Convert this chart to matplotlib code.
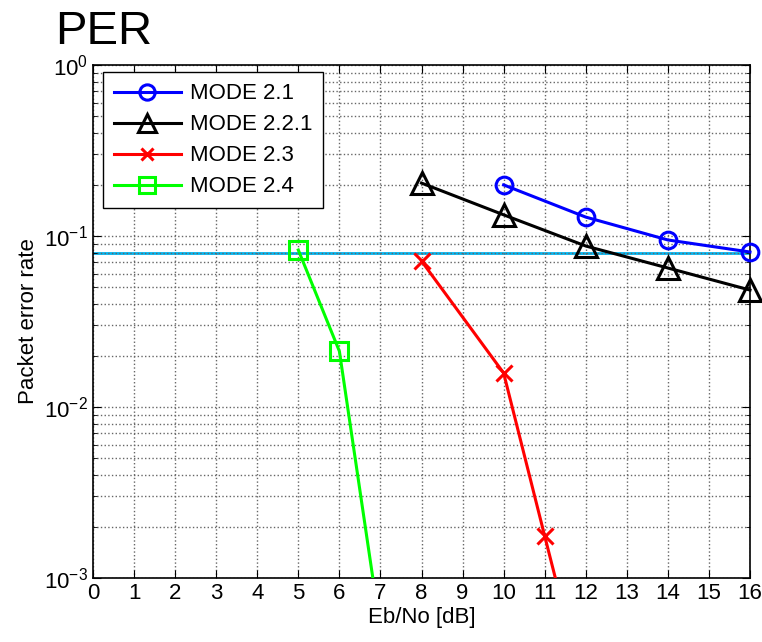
import matplotlib
matplotlib.use("Agg")
import matplotlib.pyplot as plt
from matplotlib.ticker import LogLocator, NullFormatter
from matplotlib.lines import Line2D

plt.rcParams.update({"font.family": ["Liberation Sans", "DejaVu Sans"], "font.size": 16})

# data
x21 = [10, 12, 14, 16]
per21 = [0.199, 0.129, 0.0948, 0.0806]
x221 = [8, 10, 12, 14, 16]
per221 = [0.204, 0.133, 0.0874, 0.065, 0.0483]
x23 = [8, 10, 11, 12]
per23 = [0.0714, 0.0158, 0.00176, 0.0002]
x24 = [5, 6, 7]
per24 = [0.0828, 0.0212, 0.0005]
target = 0.08
labels = ["MODE 2.1", "MODE 2.2.1", "MODE 2.3", "MODE 2.4"]

fig = plt.figure(figsize=(7.62, 6.42), dpi=100)
ax = fig.add_axes([93/762, 1 - 578/642, 657/762, 513/642])

ax.axhline(target, color="#00B4F0", lw=2, zorder=1)
ax.plot(x21, per21, "-o", color="#0000FF", lw=2.2, ms=12, mfc="none", mew=2.2, zorder=3, clip_on=False)
ax.plot(x221, per221, "-^", color="black", lw=2.2, ms=16, mfc="none", mew=2.2, zorder=3, clip_on=False)
ax.plot(x23, per23, "-", color="#FF0000", lw=2.2, zorder=3)
ax.plot(x23[:3], per23[:3], "x", color="#FF0000", ms=11, mew=2.2, zorder=3)
ax.plot(x24, per24, "-", color="#00FF00", lw=2.2, zorder=3)
ax.plot(x24[:2], per24[:2], "s", color="#00FF00", ms=13, mfc="none", mew=2.2, zorder=3)

ax.set_yscale("log")
ax.set_xlim(0, 16); ax.set_ylim(1e-3, 1)
ax.set_xticks(range(0, 17))
ax.yaxis.set_major_locator(LogLocator(base=10, numticks=10))
ax.yaxis.set_minor_locator(LogLocator(base=10, subs=range(2, 10), numticks=20))
ax.yaxis.set_minor_formatter(NullFormatter())
ax.tick_params(which="both", direction="in", top=True, right=True, labelsize=16)
ax.tick_params(which="major", length=6)
ax.tick_params(which="minor", length=3)
ax.grid(True, which="major", color="#666666", ls=":", lw=1.0)
ax.grid(True, which="minor", axis="y", color="#666666", ls=":", lw=1.0)
for s in ax.spines.values(): s.set_linewidth(1.2)

ax.set_xlabel("Eb/No [dB]", fontsize=16, labelpad=2)
ax.set_ylabel("Packet error rate", fontsize=16, labelpad=4)
fig.text(55/762, 1 - 44/642, "PER", fontsize=34, ha="left", va="baseline")

# legend handles with markers like MATLAB
handles = [Line2D([], [], color="#0000FF", lw=2.2, marker="o", ms=11, mfc="none", mew=2.2),
           Line2D([], [], color="black", lw=2.2, marker="^", ms=13, mfc="none", mew=2.2),
           Line2D([], [], color="#FF0000", lw=2.2, marker="x", ms=9, mew=2.2),
           Line2D([], [], color="#00FF00", lw=2.2, marker="s", ms=11, mfc="none", mew=2.2)]
leg = ax.legend(handles, labels, loc="upper left", bbox_to_anchor=(0.015, 0.986), borderaxespad=0,
                fontsize=16, fancybox=False, edgecolor="black", framealpha=1, handlelength=3.0,
                handletextpad=0.4, borderpad=0.5, labelspacing=0.45)
leg.get_frame().set_linewidth(1.0)

fig.savefig("out.png", dpi=100)
